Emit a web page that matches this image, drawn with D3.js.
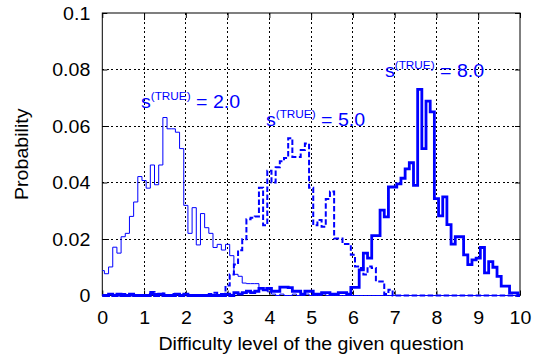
<!DOCTYPE html>
<html>
<head>
<meta charset="utf-8">
<script src="https://cdn.jsdelivr.net/npm/d3@7"></script>
<style>
  body { margin: 0; background: #fff; }
  svg { display: block; }
  text { font-family: "Liberation Sans", Arial, sans-serif; }
</style>
</head>
<body>
<svg id="chart" width="538" height="361"></svg>
<script>
// bin centres 0.0, 0.1, ... 10.0
var binCenters = d3.range(0, 101).map(function (i) { return i / 10; });

// s(TRUE) = 2.0, thin solid
var probS2 = [
  0.0088, 0.0077, 0.0101, 0.0171, 0.0150, 0.0208, 0.0220, 0.0280, 0.0331, 0.0421,
  0.0407, 0.0380, 0.0462, 0.0392, 0.0462, 0.0630, 0.0590, 0.0590, 0.0578, 0.0520,
  0.0319, 0.0220, 0.0311, 0.0179, 0.0290, 0.0240, 0.0220, 0.0170, 0.0181, 0.0161,
  0.0181, 0.0141, 0.0075, 0.0068, 0.0044, 0.0042, 0.0042, 0.0042, 0.0027, 0.0027,
  0.0013, 0.0005, 0, 0.0005, 0, 0, 0.0005, 0, 0, 0.0005,
  0, 0, 0, 0.0005, 0, 0, 0, 0, 0, 0,
  0, 0, 0, 0, 0, 0, 0, 0, 0, 0,
  0, 0, 0, 0, 0, 0, 0, 0, 0, 0,
  0, 0, 0, 0, 0, 0, 0, 0, 0, 0,
  0, 0, 0, 0, 0, 0, 0, 0, 0, 0,
  0
];

// s(TRUE) = 5.0, dashed
var probS5 = [
  0, 0, 0.0005, 0, 0, 0.0005, 0, 0, 0, 0,
  0, 0, 0.0012, 0.0005, 0, 0.0007, 0, 0.0005, 0, 0,
  0.0005, 0, 0, 0, 0, 0, 0.0005, 0.0010, 0.0005, 0.0005,
  0.0035, 0.0074, 0.0110, 0.0160, 0.0199, 0.0270, 0.0275, 0.0280, 0.0381, 0.0249,
  0.0442, 0.0400, 0.0454, 0.0475, 0.0487, 0.0557, 0.0490, 0.0490, 0.0515, 0.0538,
  0.0381, 0.0249, 0.0267, 0.0243, 0.0342, 0.0368, 0.0202, 0.0202, 0.0182, 0.0182,
  0.0144, 0.0103, 0.0097, 0.0074, 0.0103, 0.0097, 0.0050, 0.0050, 0.0005, 0.0020,
  0, 0, 0, 0, 0, 0, 0, 0, 0, 0,
  0, 0, 0, 0, 0, 0, 0, 0, 0, 0,
  0, 0, 0, 0, 0, 0, 0, 0, 0, 0,
  0
];

// s(TRUE) = 8.0, thick solid
var probS8 = [
  0, 0, 0.0005, 0, 0.0005, 0, 0, 0.0005, 0, 0,
  0, 0, 0.0005, 0, 0.0005, 0, 0, 0, 0.0005, 0,
  0.0005, 0, 0, 0, 0, 0, 0, 0, 0, 0,
  0.0005, 0, 0.0010, 0.0005, 0.0010, 0.0015, 0.0010, 0.0015, 0.0025, 0.0020,
  0.0025, 0.0015, 0.0015, 0.0030, 0.0030, 0.0028, 0.0015, 0.0015, 0.0005, 0.0015,
  0.0015, 0.0005, 0.0005, 0.0010, 0.0010, 0.0005, 0.0005, 0.0010, 0.0010, 0.0005,
  0.0029, 0.0029, 0.0091, 0.0150, 0.0132, 0.0212, 0.0212, 0.0302, 0.0278, 0.0384,
  0.0384, 0.0395, 0.0415, 0.0448, 0.0470, 0.0390, 0.0730, 0.0520, 0.0688, 0.0650,
  0.0343, 0.0282, 0.0349, 0.0251, 0.0182, 0.0208, 0.0208, 0.0144, 0.0109, 0.0126,
  0.0132, 0.0170, 0.0080, 0.0120, 0.0100, 0.0068, 0.0033, 0.0033, 0.0009, 0.0009,
  0
];

var xTicks = [0, 1, 2, 3, 4, 5, 6, 7, 8, 9, 10];
var yTicks = [0, 0.02, 0.04, 0.06, 0.08, 0.1];
var yTickLabels = ["0", "0.02", "0.04", "0.06", "0.08", "0.1"];
var seriesLabels = ["2.0", "5.0", "8.0"];

(function () {
  var svg = d3.select("#chart");
  var pLeft = 102.3, pRight = 520, pTop = 13, pBottom = 295.5;
  var stretch = 1.12;
  var blue = "#0000ff";

  var x = d3.scaleLinear().domain([0, 10]).range([pLeft, pRight]);
  var y = d3.scaleLinear().domain([0, 0.1]).range([pBottom, pTop]);

  // grid
  var grid = svg.append("g").attr("stroke", "#000").attr("stroke-width", 1)
    .attr("stroke-dasharray", "2,2.5").attr("shape-rendering", "crispEdges");
  grid.selectAll(".gx").data(xTicks.slice(1, -1)).enter().append("line")
    .attr("x1", function (d) { return x(d); }).attr("x2", function (d) { return x(d); })
    .attr("y1", pTop).attr("y2", pBottom);
  grid.selectAll(".gy").data(yTicks.slice(1, -1)).enter().append("line")
    .attr("x1", pLeft).attr("x2", pRight)
    .attr("y1", function (d) { return y(d); }).attr("y2", function (d) { return y(d); });

  // axes (inward ticks, mirrored)
  function styleAxis(g) {
    g.select(".domain").remove();
    g.selectAll("line").attr("stroke", "#000");
  }
  var axB = svg.append("g").attr("transform", "translate(0," + pBottom + ")")
    .call(d3.axisBottom(x).tickValues(xTicks).tickSize(-5).tickPadding(0).tickFormat(d3.format("d")));
  styleAxis(axB);
  axB.selectAll("text").attr("y", 0).attr("dy", null)
    .attr("transform", "translate(0,28) scale(" + stretch + ",1)")
    .attr("font-size", 17.5).attr("fill", "#000");

  var axT = svg.append("g").attr("transform", "translate(0," + pTop + ")")
    .call(d3.axisTop(x).tickValues(xTicks).tickSize(-5).tickFormat(""));
  styleAxis(axT);

  var axL = svg.append("g").attr("transform", "translate(" + pLeft + ",0)")
    .call(d3.axisLeft(y).tickValues(yTicks).tickSize(-5)
      .tickFormat(function (d, i) { return yTickLabels[i]; }));
  styleAxis(axL);
  axL.selectAll("text").attr("x", 0).attr("dy", null)
    .attr("transform", "translate(-12,6) scale(" + stretch + ",1)")
    .attr("font-size", 17.5).attr("fill", "#000").attr("text-anchor", "end");

  var axR = svg.append("g").attr("transform", "translate(" + pRight + ",0)")
    .call(d3.axisRight(y).tickValues(yTicks).tickSize(-5).tickFormat(""));
  styleAxis(axR);

  // frame
  svg.append("rect").attr("x", pLeft).attr("y", pTop)
    .attr("width", pRight - pLeft).attr("height", pBottom - pTop)
    .attr("fill", "none").attr("stroke", "#000").attr("stroke-width", 1);

  // step histograms
  function stepPoints(vals) {
    var pts = vals.map(function (v, i) { return [Math.max(0, binCenters[i] - 0.05), v]; });
    pts.push([10, vals[vals.length - 1]]);
    return pts;
  }
  var line = d3.line()
    .x(function (d) { return x(d[0]); })
    .y(function (d) { return y(d[1]); })
    .curve(d3.curveStepAfter);

  svg.append("path").attr("d", line(stepPoints(probS2)))
    .attr("fill", "none").attr("stroke", blue).attr("stroke-width", 1);
  svg.append("path").attr("d", line(stepPoints(probS5)))
    .attr("fill", "none").attr("stroke", blue).attr("stroke-width", 2)
    .attr("stroke-dasharray", "5.5,2.5");
  svg.append("path").attr("d", line(stepPoints(probS8)))
    .attr("fill", "none").attr("stroke", blue).attr("stroke-width", 2.8);

  // annotations
  var annot = [[141, 108], [266, 126], [385, 77]];
  annot.forEach(function (p, i) {
    var t = svg.append("text")
      .attr("transform", "translate(" + p[0] + "," + p[1] + ") scale(" + stretch + ",1)")
      .attr("font-size", 17.5).attr("fill", blue);
    t.append("tspan").text("s");
    t.append("tspan").attr("font-size", 10.5).attr("dy", -8.5).text("(TRUE)");
    t.append("tspan").attr("dy", 8.5).text(" = " + seriesLabels[i]);
  });

  // axis titles
  svg.append("text")
    .attr("transform", "translate(" + ((pLeft + pRight) / 2) + ",350) scale(" + stretch + ",1)")
    .attr("text-anchor", "middle").attr("font-size", 17.5).attr("fill", "#000")
    .text("Difficulty level of the given question");
  svg.append("text")
    .attr("transform", "translate(28," + ((pTop + pBottom) / 2) + ") rotate(-90) scale(" + stretch + ",1)")
    .attr("text-anchor", "middle").attr("font-size", 17.5).attr("fill", "#000")
    .text("Probability");
})();
</script>
</body>
</html>
